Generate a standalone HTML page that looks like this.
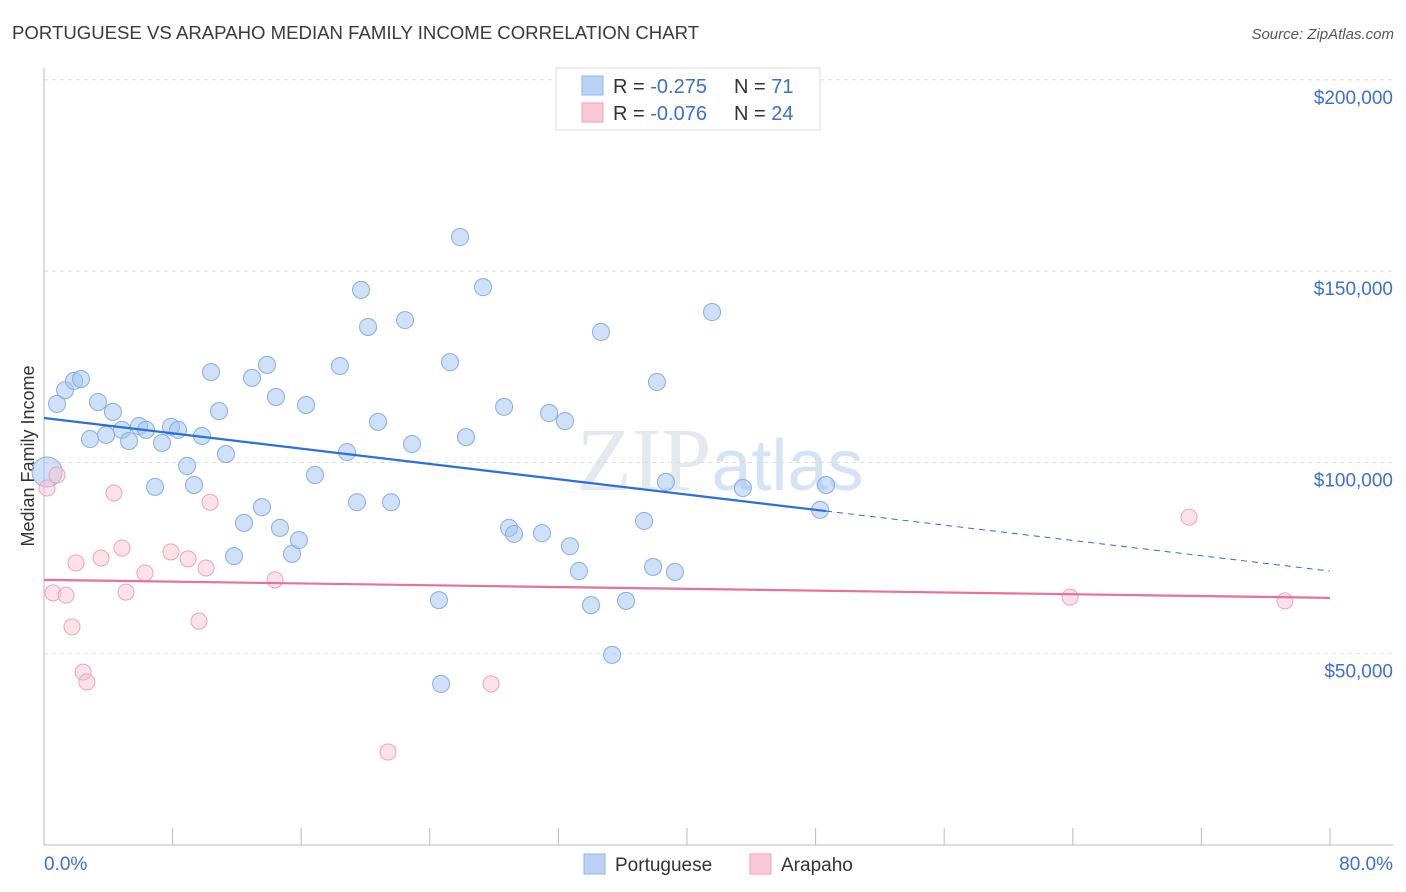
<!DOCTYPE html>
<html><head><meta charset="utf-8"><style>
body{margin:0;background:#fff;font-family:"Liberation Sans",sans-serif;}
svg{display:block}
</style></head><body>
<svg id="chart" width="1406" height="892">
<text x="12" y="39" font-size="18.6" fill="#3a3a3a">PORTUGUESE VS ARAPAHO MEDIAN FAMILY INCOME CORRELATION CHART</text>
<text x="1394" y="39" font-size="15" fill="#555" font-style="italic" text-anchor="end">Source: ZipAtlas.com</text>
<text x="720" y="490" font-size="90" fill="#e4e9f0" text-anchor="middle" font-family="Liberation Serif,serif">ZIP<tspan fill="#d4e3f5" font-family="Liberation Sans,sans-serif" font-size="72">atlas</tspan></text>
<text transform="translate(34,456) rotate(-90)" font-size="18" fill="#333" text-anchor="middle">Median Family Income</text>
<g id="grid"></g><g id="axes"></g><g id="marks"></g>
<g>
<rect x="556" y="68" width="264" height="62" fill="#fff" stroke="#ddd"/>
<rect x="582" y="76" width="21" height="19" fill="#b8d3f5" stroke="#8fb4e6"/>
<rect x="582" y="103" width="21" height="19" fill="#fbc8d6" stroke="#f0a0b8"/>
<text x="613" y="93" font-size="20" fill="#333">R = <tspan fill="#3b6fd4">-0.275</tspan></text>
<text x="734" y="93" font-size="20" fill="#333">N = <tspan fill="#3b6fd4"> 71</tspan></text>
<text x="613" y="120" font-size="20" fill="#333">R = <tspan fill="#3b6fd4">-0.076</tspan></text>
<text x="734" y="120" font-size="20" fill="#333">N = <tspan fill="#3b6fd4">24</tspan></text>
</g>
<g>
<rect x="584" y="854" width="21" height="20" fill="#b8d3f5" stroke="#8fb4e6"/>
<text x="615" y="871" font-size="19" fill="#333">Portuguese</text>
<rect x="750" y="854" width="21" height="20" fill="#fbc8d6" stroke="#f0a0b8"/>
<text x="781" y="871" font-size="19" fill="#333">Arapaho</text>
</g>
<text x="44" y="870" font-size="19" fill="#3b6fd4">0.0%</text>
<text x="1393" y="870" font-size="19" fill="#3b6fd4" text-anchor="end">80.0%</text>
</svg>
<script>
const yTicks=[50000,100000,150000,200000];
const yTickLabels=["$50,000","$100,000","$150,000","$200,000"];
const xTicks=[0,8,16,24,32,40,48,56,64,72,80];
const bluePctX=[0.81,1.31,1.87,2.30,2.86,3.36,3.86,4.29,4.85,5.29,5.91,6.35,6.91,7.34,7.90,8.34,8.90,9.33,9.83,10.39,10.89,11.32,11.82,12.44,12.94,13.56,13.87,14.43,14.68,15.43,15.86,16.30,16.86,18.41,18.85,19.47,19.72,20.16,20.78,21.59,22.46,22.89,24.57,24.70,25.26,25.88,26.25,27.31,28.62,28.93,29.24,30.98,31.42,32.41,32.72,33.28,34.03,34.65,35.34,36.21,37.33,37.89,38.13,38.69,39.25,41.56,43.48,48.28,48.65,0.19];
const blueIncome=[115300,118900,121300,121800,106100,115800,107200,113200,108500,105600,109500,108500,93600,105100,109300,108500,99100,94100,106900,123600,113400,102200,75500,84200,122100,88300,125500,117100,82900,76100,79700,115000,96700,125200,102700,89600,145100,135400,110600,89600,137200,104800,64000,42100,126200,158900,106600,145800,114500,82900,81300,81500,112900,110800,78100,71600,62700,134100,49700,63800,84700,72700,121000,94900,71400,139300,93300,87600,94100,97500];
const pinkPctX=[0.19,0.81,0.56,1.37,1.74,1.99,2.43,2.67,3.55,4.35,4.85,5.10,6.28,7.90,8.96,9.64,10.08,10.33,14.37,21.40,27.81,63.83,71.23,77.20];
const pinkIncome=[93300,96700,65900,65300,57000,73700,45200,42600,75000,92000,77600,66100,71100,76600,74800,58500,72400,89600,69300,24300,42100,64800,85700,63800];
const blueTrend=[111600,71600];
const pinkTrend=[69300,64600];
const X0=44,X1=1330,YB=845,PXPER=191.3/50000;
const sx=v=>X0+(v/80)*(X1-X0);
const sy=v=>YB-v*PXPER;
const NS="http://www.w3.org/2000/svg";
function mk(tag,attrs,parent){const e=document.createElementNS(NS,tag);for(const k in attrs)e.setAttribute(k,attrs[k]);document.getElementById(parent).appendChild(e);return e;}
yTicks.forEach((t,i)=>{
 const g=mk('line',{x1:44,x2:1393,y1:sy(t),y2:sy(t),stroke:'#dcdcdc','stroke-dasharray':'4,4'},'grid');
 
 
 const tx=mk('text',{x:1393,y:sy(t)+24,'font-size':19,fill:'#3b6fd4','text-anchor':'end'},'grid');
 tx.textContent=yTickLabels[i];
 
 
});
const ax=mk('line',{x1:44,x2:1393,y1:YB,y2:YB,stroke:'#bbb'},'axes');


const ay=mk('line',{x1:44,x2:44,y1:68,y2:YB,stroke:'#bbb'},'axes');


xTicks.forEach(t=>{
 const l=mk('line',{x1:sx(t),x2:sx(t),y1:828,y2:YB,stroke:'#bbb'},'axes');
 
 
});
bluePctX.forEach((x,i)=>{
 const big=i===bluePctX.length-1;
 const c=mk('circle',{cx:sx(x),cy:sy(blueIncome[i]),r:big?15:8.5,fill:'rgba(160,195,240,0.5)',stroke:'#86ade3','stroke-width':1},'marks');
 
 
});
pinkPctX.forEach((x,i)=>{
 const c=mk('circle',{cx:sx(x),cy:sy(pinkIncome[i]),r:8,fill:'rgba(250,190,208,0.45)',stroke:'#eea2b9','stroke-width':1},'marks');
 
 
});
const bmax=Math.max(...bluePctX);
const by=x=>blueTrend[0]+(blueTrend[1]-blueTrend[0])*x/80;
const l1=mk('line',{x1:sx(0),y1:sy(by(0)),x2:sx(bmax),y2:sy(by(bmax)),stroke:'#2a6fdb','stroke-width':2.2},'marks');


const l2=mk('line',{x1:sx(bmax),y1:sy(by(bmax)),x2:sx(80),y2:sy(by(80)),stroke:'#2a6fdb','stroke-width':1,'stroke-dasharray':'6,5'},'marks');


const l3=mk('line',{x1:sx(0),y1:sy(pinkTrend[0]),x2:sx(80),y2:sy(pinkTrend[1]),stroke:'#e8709a','stroke-width':2.2},'marks');


</script>
</body></html>
